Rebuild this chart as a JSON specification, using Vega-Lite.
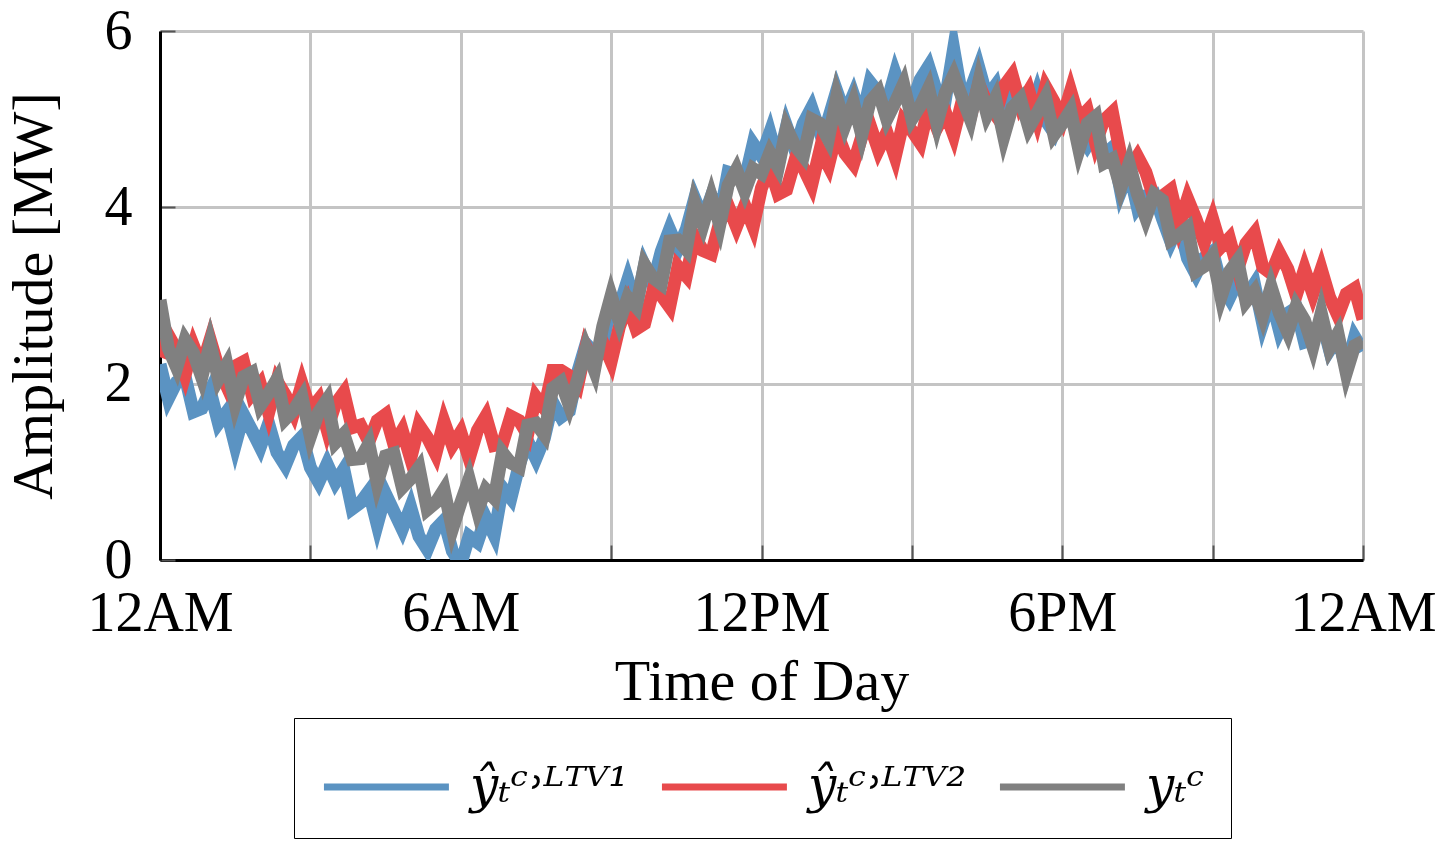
{
"$schema": "https://vega.github.io/schema/vega-lite/v6.json",
"width": 1203, "height": 529,
"autosize": "none",
"padding": {"left": 160, "top": 31, "right": 85, "bottom": 285},
"background": "white",
"config": {"view": {"stroke": null}, "font": "Liberation Serif"},
"data": {"values": [
{"t":0,"a":2.22,"b":2.30,"c":2.95},
{"t":10,"a":1.83,"b":2.55,"c":2.40},
{"t":20,"a":2.02,"b":2.38,"c":2.18},
{"t":30,"a":2.08,"b":2.10,"c":2.50},
{"t":40,"a":1.68,"b":2.43,"c":2.35},
{"t":50,"a":1.72,"b":2.19,"c":2.07},
{"t":60,"a":1.92,"b":2.50,"c":2.45},
{"t":70,"a":1.55,"b":2.18,"c":2.05},
{"t":80,"a":1.68,"b":1.97,"c":2.22},
{"t":90,"a":1.30,"b":2.20,"c":1.77},
{"t":100,"a":1.65,"b":2.25,"c":2.08},
{"t":110,"a":1.47,"b":1.88,"c":2.13},
{"t":120,"a":1.28,"b":2.00,"c":1.75},
{"t":130,"a":1.55,"b":1.67,"c":1.89},
{"t":140,"a":1.22,"b":2.03,"c":2.05},
{"t":150,"a":1.07,"b":1.87,"c":1.60},
{"t":160,"a":1.30,"b":1.67,"c":1.70},
{"t":170,"a":1.40,"b":2.00,"c":1.85},
{"t":180,"a":1.05,"b":1.70,"c":1.40},
{"t":190,"a":0.88,"b":1.82,"c":1.68},
{"t":200,"a":1.09,"b":1.48,"c":1.82},
{"t":210,"a":0.88,"b":1.77,"c":1.33},
{"t":220,"a":1.03,"b":1.90,"c":1.43},
{"t":230,"a":0.58,"b":1.50,"c":1.14},
{"t":240,"a":0.65,"b":1.53,"c":1.15},
{"t":250,"a":0.78,"b":1.34,"c":1.32},
{"t":260,"a":0.40,"b":1.58,"c":0.87},
{"t":270,"a":0.75,"b":1.65,"c":1.18},
{"t":280,"a":0.55,"b":1.31,"c":1.21},
{"t":290,"a":0.35,"b":1.47,"c":0.82},
{"t":300,"a":0.60,"b":1.15,"c":0.92},
{"t":310,"a":0.27,"b":1.53,"c":1.05},
{"t":320,"a":0.12,"b":1.39,"c":0.57},
{"t":330,"a":0.35,"b":1.20,"c":0.65},
{"t":340,"a":0.45,"b":1.57,"c":0.80},
{"t":350,"a":0.10,"b":1.30,"c":0.35},
{"t":360,"a":-0.05,"b":1.45,"c":0.65},
{"t":370,"a":0.27,"b":1.15,"c":0.92},
{"t":380,"a":0.20,"b":1.47,"c":0.56},
{"t":390,"a":0.48,"b":1.63,"c":0.80},
{"t":400,"a":0.28,"b":1.30,"c":0.70},
{"t":410,"a":0.82,"b":1.32,"c":1.22},
{"t":420,"a":0.70,"b":1.63,"c":1.10},
{"t":430,"a":1.08,"b":1.58,"c":1.05},
{"t":440,"a":1.35,"b":1.42,"c":1.53},
{"t":450,"a":1.15,"b":1.85,"c":1.55},
{"t":460,"a":1.38,"b":1.72,"c":1.42},
{"t":470,"a":1.79,"b":2.15,"c":1.95},
{"t":480,"a":1.62,"b":2.15,"c":2.02},
{"t":490,"a":1.69,"b":2.09,"c":1.75},
{"t":500,"a":2.13,"b":1.98,"c":2.05},
{"t":510,"a":2.45,"b":2.42,"c":2.40},
{"t":520,"a":2.35,"b":2.23,"c":2.15},
{"t":530,"a":2.45,"b":2.47,"c":2.65},
{"t":540,"a":2.92,"b":2.25,"c":3.00},
{"t":550,"a":2.88,"b":2.65,"c":2.70},
{"t":560,"a":3.18,"b":2.90,"c":2.98},
{"t":570,"a":2.88,"b":2.62,"c":2.87},
{"t":580,"a":3.34,"b":2.68,"c":3.35},
{"t":590,"a":3.13,"b":3.05,"c":3.20},
{"t":600,"a":3.50,"b":3.00,"c":3.13},
{"t":610,"a":3.75,"b":2.87,"c":3.62},
{"t":620,"a":3.53,"b":3.33,"c":3.63},
{"t":630,"a":3.75,"b":3.22,"c":3.52},
{"t":640,"a":4.10,"b":3.67,"c":4.05},
{"t":650,"a":3.87,"b":3.51,"c":3.80},
{"t":660,"a":4.13,"b":3.47,"c":4.12},
{"t":670,"a":3.90,"b":3.83,"c":3.80},
{"t":680,"a":4.40,"b":4.02,"c":4.25},
{"t":690,"a":4.37,"b":3.78,"c":4.43},
{"t":700,"a":4.31,"b":4.02,"c":4.18},
{"t":710,"a":4.72,"b":3.78,"c":4.44},
{"t":720,"a":4.58,"b":4.22,"c":4.38},
{"t":730,"a":4.85,"b":4.45,"c":4.62},
{"t":740,"a":4.51,"b":4.15,"c":4.45},
{"t":750,"a":4.92,"b":4.20,"c":4.90},
{"t":760,"a":4.65,"b":4.53,"c":4.70},
{"t":770,"a":4.95,"b":4.45,"c":4.58},
{"t":780,"a":5.13,"b":4.25,"c":5.00},
{"t":790,"a":4.85,"b":4.65,"c":4.95},
{"t":800,"a":5.00,"b":4.47,"c":4.77},
{"t":810,"a":5.32,"b":4.85,"c":5.25},
{"t":820,"a":5.05,"b":4.61,"c":4.93},
{"t":830,"a":5.28,"b":4.49,"c":5.19},
{"t":840,"a":5.00,"b":4.80,"c":4.82},
{"t":850,"a":5.42,"b":4.93,"c":5.20},
{"t":860,"a":5.30,"b":4.65,"c":5.31},
{"t":870,"a":5.18,"b":4.85,"c":5.00},
{"t":880,"a":5.52,"b":4.57,"c":5.19},
{"t":890,"a":5.25,"b":4.98,"c":5.40},
{"t":900,"a":5.17,"b":4.87,"c":5.00},
{"t":910,"a":5.45,"b":4.73,"c":5.15},
{"t":920,"a":5.60,"b":5.14,"c":5.35},
{"t":930,"a":5.30,"b":4.90,"c":4.95},
{"t":940,"a":5.22,"b":5.08,"c":5.30},
{"t":950,"a":5.80,"b":4.82,"c":5.50},
{"t":960,"a":5.25,"b":5.20,"c":5.25},
{"t":970,"a":5.33,"b":5.02,"c":5.00},
{"t":980,"a":5.59,"b":5.40,"c":5.42},
{"t":990,"a":5.25,"b":5.18,"c":5.05},
{"t":1000,"a":5.38,"b":5.05,"c":5.24},
{"t":1010,"a":5.00,"b":5.37,"c":4.80},
{"t":1020,"a":5.35,"b":5.50,"c":5.13},
{"t":1030,"a":5.19,"b":5.16,"c":5.23},
{"t":1040,"a":5.01,"b":5.32,"c":4.90},
{"t":1050,"a":5.30,"b":5.00,"c":5.07},
{"t":1060,"a":4.99,"b":5.37,"c":5.25},
{"t":1070,"a":4.85,"b":5.20,"c":4.82},
{"t":1080,"a":5.10,"b":5.00,"c":4.95},
{"t":1090,"a":5.20,"b":5.32,"c":5.10},
{"t":1100,"a":4.85,"b":5.00,"c":4.65},
{"t":1110,"a":4.70,"b":5.10,"c":4.95},
{"t":1120,"a":4.85,"b":4.73,"c":5.03},
{"t":1130,"a":4.60,"b":4.99,"c":4.50},
{"t":1140,"a":4.68,"b":5.08,"c":4.55},
{"t":1150,"a":4.18,"b":4.59,"c":4.22},
{"t":1160,"a":4.42,"b":4.43,"c":4.50},
{"t":1170,"a":4.00,"b":4.58,"c":4.15},
{"t":1180,"a":4.13,"b":4.40,"c":3.88},
{"t":1190,"a":4.15,"b":4.10,"c":4.15},
{"t":1200,"a":3.87,"b":4.13,"c":4.08},
{"t":1210,"a":3.61,"b":4.20,"c":3.63},
{"t":1220,"a":3.82,"b":3.80,"c":3.69},
{"t":1230,"a":3.42,"b":4.10,"c":3.77},
{"t":1240,"a":3.24,"b":3.87,"c":3.27},
{"t":1250,"a":3.43,"b":3.60,"c":3.33},
{"t":1260,"a":3.50,"b":3.87,"c":3.45},
{"t":1270,"a":3.13,"b":3.55,"c":2.98},
{"t":1280,"a":2.97,"b":3.65,"c":3.27},
{"t":1290,"a":3.17,"b":3.30,"c":3.40},
{"t":1300,"a":2.98,"b":3.59,"c":2.93},
{"t":1310,"a":3.13,"b":3.71,"c":3.05},
{"t":1320,"a":2.68,"b":3.32,"c":2.77},
{"t":1330,"a":2.97,"b":3.25,"c":3.10},
{"t":1340,"a":2.60,"b":3.48,"c":2.80},
{"t":1350,"a":2.80,"b":3.30,"c":2.58},
{"t":1360,"a":2.86,"b":3.00,"c":2.88},
{"t":1370,"a":2.47,"b":3.30,"c":2.72},
{"t":1380,"a":2.50,"b":3.02,"c":2.42},
{"t":1390,"a":2.74,"b":3.30,"c":2.80},
{"t":1400,"a":2.38,"b":2.98,"c":2.40},
{"t":1410,"a":2.53,"b":2.77,"c":2.57},
{"t":1420,"a":2.17,"b":3.02,"c":2.12},
{"t":1430,"a":2.53,"b":3.08,"c":2.43},
{"t":1440,"a":2.37,"b":2.73,"c":2.48}
]},
"transform": [{"fold": ["a", "b", "c"], "as": ["series", "value"]}],
"mark": {"type": "line", "strokeWidth": 13, "strokeJoin": "miter", "strokeMiterLimit": 10, "clip": true},
"encoding": {
  "x": {"field": "t", "type": "quantitative",
    "scale": {"domain": [0, 1440], "nice": false, "zero": false},
    "axis": {"values": [0,180,360,540,720,900,1080,1260,1440],
      "labelExpr": "datum.value==0||datum.value==1440?'12AM':datum.value==360?'6AM':datum.value==720?'12PM':datum.value==1080?'6PM':''",
      "title": "Time of Day", "titleFontSize": 58, "titleFontWeight": "normal", "titleColor": "black", "titlePadding": 12,
      "labelFontSize": 56, "labelColor": "black", "labelPadding": 41, "labelFlush": false, "labelOverlap": false,
      "domainColor": "black", "domainWidth": 3,
      "grid": true, "gridColor": "#c4c4c4", "gridWidth": 3,
      "ticks": true, "tickSize": -15, "tickColor": "#555555", "tickWidth": 2}},
  "y": {"field": "value", "type": "quantitative",
    "scale": {"domain": [0, 6], "nice": false},
    "axis": {"values": [0, 2, 4, 6], "title": "Amplitude [MW]", "titleFontSize": 58, "titleFontWeight": "normal", "titleColor": "black", "titlePadding": 41,
      "labelFontSize": 56, "labelColor": "black", "labelPadding": 43,
      "domainColor": "black", "domainWidth": 3,
      "grid": true, "gridColor": "#c4c4c4", "gridWidth": 3,
      "ticks": true, "tickSize": -15, "tickColor": "#555555", "tickWidth": 2}},
  "color": {"field": "series", "type": "nominal",
    "scale": {"domain": ["a", "b", "c"], "range": ["#5b93c2", "#e84a4c", "#808080"]},
    "legend": {"title": null, "orient": "none", "legendX": 134, "legendY": 687, "direction": "horizontal",
      "strokeColor": "black", "padding": 26,
      "symbolType": "M-1,0H2.2", "symbolSize": 6100, "symbolStrokeWidth": 7,
      "labelFontSize": 50, "labelFont": "DejaVu Serif", "labelFontStyle": "italic", "labelColor": "black", "labelOffset": 64, "labelLimit": 500, "columnPadding": 18,
      "labelExpr": "datum.value=='a'?'ŷₜᶜ˒ᴸᵀⱽ¹':datum.value=='b'?'ŷₜᶜ˒ᴸᵀⱽ²':'yₜᶜ'"}}
}
}
